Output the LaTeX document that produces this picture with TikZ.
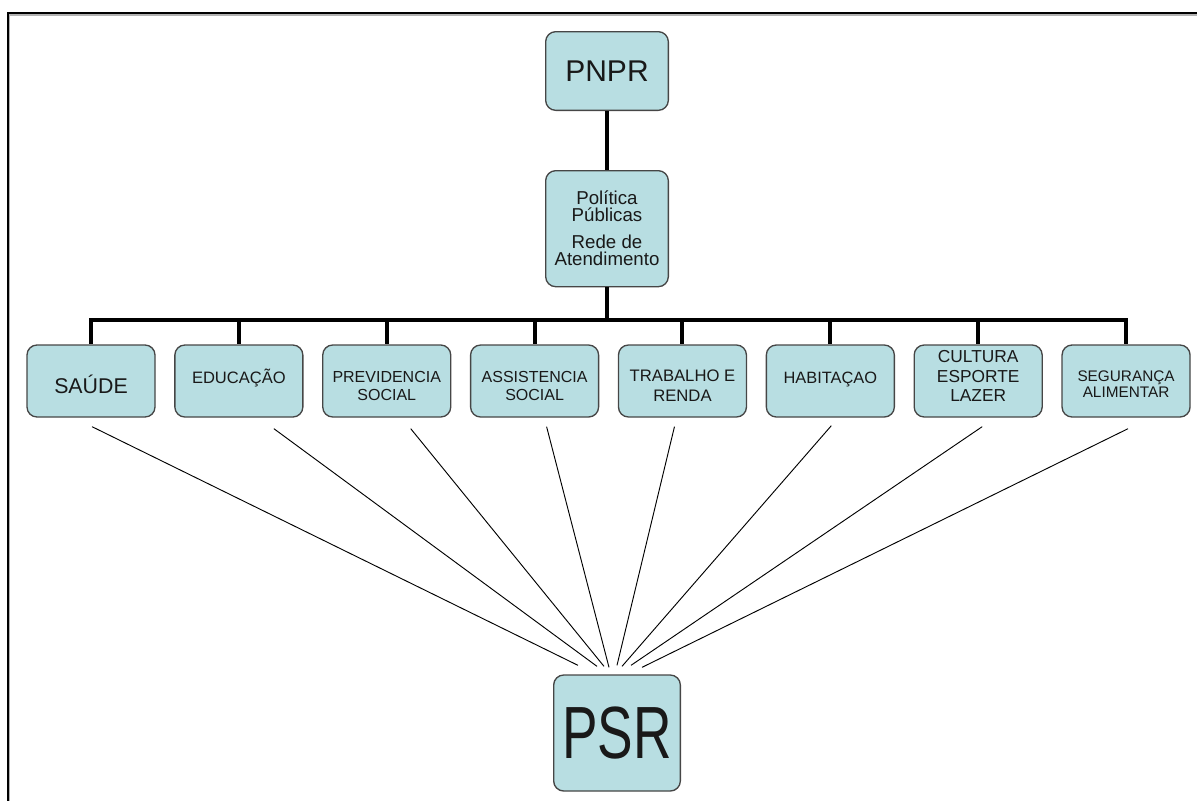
\documentclass[tikz,border=0pt]{standalone}
\usepackage{fontspec}
\setmainfont{Liberation Sans}
\usepackage{tikz}
\usetikzlibrary{positioning}

\definecolor{caixafill}{RGB}{184,222,226}
\definecolor{caixaborda}{RGB}{70,70,70}

% text block moved up/down inside a box
\newcommand{\linhas}[2]{\raisebox{#1}[\height][\depth]{\begin{tabular}{@{}c@{}}#2\end{tabular}}}

\tikzset{
  caixa/.style={draw=caixaborda, fill=caixafill, line width=1pt, rounded corners=7.5pt,
    inner sep=0pt, align=center, text=black!90,
    minimum width=96pt, minimum height=54pt},
  tronco/.style={line width=3pt},
  ligacao/.style={line width=0.7pt},
}

\begin{document}
\begin{tikzpicture}[x=0.75pt, y=-0.75pt]
  \useasboundingbox (0,0) rectangle (1197,801);

  % frame
  \draw[gray!60, line width=1pt] (1197,15) -| (9.5,801);
  \draw[line width=1.5pt] (1197,13) -| (7.5,801);

  % nodes
  \node[caixa, minimum width=92pt, minimum height=59pt,
        font=\fontsize{22.5}{26}\selectfont] (pnpr) at (607,71) {PNPR};
  \node[caixa, below=44.25pt of pnpr, minimum width=92pt, minimum height=87pt,
        font=\fontsize{14}{12.75}\selectfont] (pol)
        {Política\\Públicas\\[7.5pt]Rede de\\Atendimento};
  \coordinate (bus) at (607,320);

  \node[caixa, font=\fontsize{16}{18}\selectfont] (saude) at (91,381)
        {\linhas{-5pt}{SAÚDE}};
  \node[caixa, right=13.9pt of saude, font=\fontsize{12.4}{13.5}\selectfont] (educ)
        {\linhas{1.5pt}{EDUCAÇÃO}};
  \node[caixa, right=13.9pt of educ, font=\fontsize{12}{13.5}\selectfont] (prev)
        {\linhas{-5pt}{PREVIDENCIA\\SOCIAL}};
  \node[caixa, right=13.9pt of prev, font=\fontsize{12}{13.5}\selectfont] (assist)
        {\linhas{-5pt}{ASSISTENCIA\\SOCIAL}};
  \node[caixa, right=13.9pt of assist, font=\fontsize{12.5}{15}\selectfont] (trab)
        {\linhas{-5pt}{TRABALHO E\\RENDA}};
  \node[caixa, right=13.9pt of trab, font=\fontsize{12.3}{14}\selectfont] (hab)
        {\linhas{1pt}{HABITAÇAO}};
  \node[caixa, right=13.9pt of hab, font=\fontsize{13}{14.6}\selectfont] (cult)
        {\linhas{2pt}{CULTURA\\ESPORTE\\LAZER}};
  \node[caixa, right=13.9pt of cult, font=\fontsize{11.5}{12}\selectfont] (seg)
        {\linhas{-4pt}{SEGURANÇA\\ALIMENTAR}};

  \node[caixa, minimum width=95pt, minimum height=87pt,
        font=\fontsize{55.5}{60}\selectfont] (psr) at (617,733)
        {\scalebox{0.72}[1]{PSR}};

  % edges
  \draw[tronco] (pnpr) -- (pol);
  \draw[tronco] (pol) -- (bus);
  \foreach \filho in {saude,educ,prev,assist,trab,hab,cult,seg}
    \draw[tronco] (bus) -| (\filho.north);

  \draw[ligacao] ([shift={(1,9)}]saude.south)   -- ([shift={(-39,-9)}]psr.north);
  \draw[ligacao] ([shift={(35,11)}]educ.south)  -- ([shift={(-20,-8)}]psr.north);
  \draw[ligacao] ([shift={(24,11)}]prev.south)  -- ([shift={(-13,-8)}]psr.north);
  \draw[ligacao] ([shift={(12,9)}]assist.south) -- ([shift={(-8,-7)}]psr.north);
  \draw[ligacao] ([shift={(-8,9)}]trab.south)   -- ([shift={(0,-9)}]psr.north);
  \draw[ligacao] ([shift={(1,8)}]hab.south)     -- ([shift={(5,-8)}]psr.north);
  \draw[ligacao] ([shift={(4,9)}]cult.south)    -- ([shift={(14,-9)}]psr.north);
  \draw[ligacao] ([shift={(2,11)}]seg.south)    -- ([shift={(25,-7)}]psr.north);
\end{tikzpicture}
\end{document}
